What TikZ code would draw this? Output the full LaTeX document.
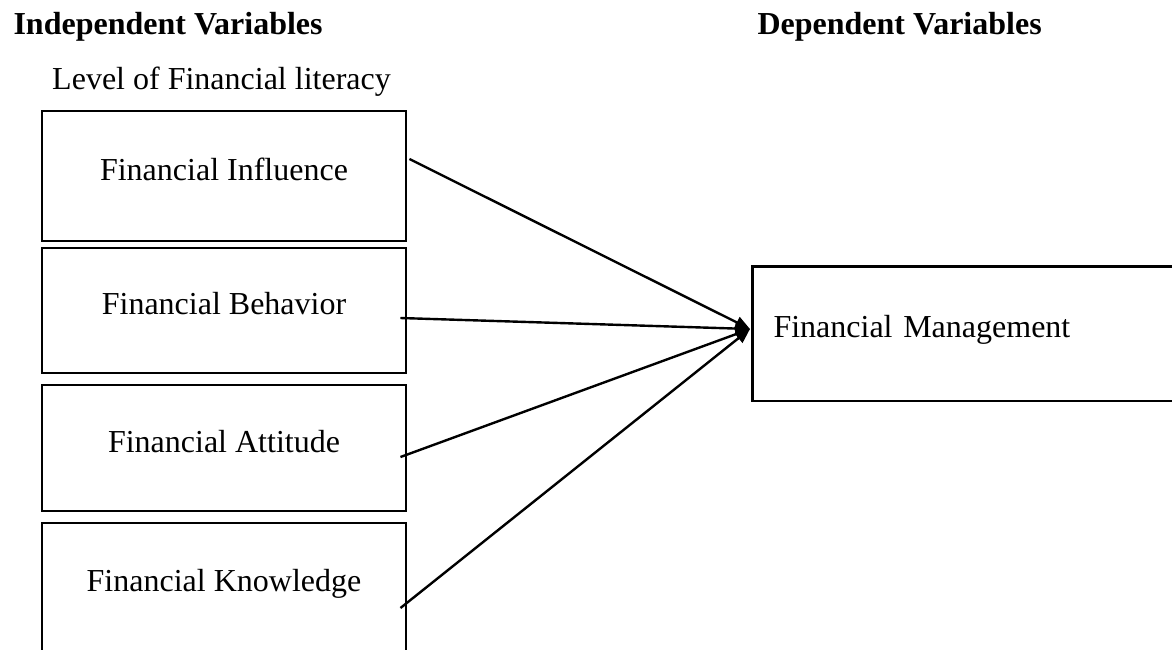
\documentclass[tikz,border=0pt]{standalone}
\usepackage{fontspec}
\setmainfont{Liberation Serif}
\usetikzlibrary{arrows.meta}
\usetikzlibrary{calc}

\begin{document}
\begin{tikzpicture}[x=0.375pt,y=0.375pt,yscale=-1,xscale=1,
  varbox/.style={draw, line width=1.1pt, minimum width=136.5pt, inner sep=0pt,
    text height=8pt, text depth=5pt, font=\fontsize{12}{14}\selectfont},
  heading/.style={anchor=west, inner sep=0pt, font=\fontsize{12}{14}\selectfont\bfseries},
  link/.style={line width=0.9pt, -{Triangle[length=5.5pt,width=4.5pt]}}]
\clip (0,0) rectangle (1172,649);
\useasboundingbox (0,0) rectangle (1172,649);

% Text Node
\node [heading] (indep) at (13,27) {Independent Variables};
% Text Node
\node [heading] (dep) at (757,27) {Dependent Variables};
% Text Node
\node [inner sep=0pt, font=\fontsize{12}{14}\selectfont] (level) at (221.5,81.5) {Level of Financial literacy};

% Boxes
\node [varbox, minimum height=48.75pt] (infl) at (224,176) {Financial Influence};
\node [varbox, minimum height=46.875pt] (behav) at (224,310.5) {Financial Behavior};
\node [varbox, minimum height=47.25pt] (attit) at (224,448) {Financial Attitude};
\node [varbox, minimum height=60pt, text depth=16.5pt] (knowl) at (224,603) {Financial Knowledge};
\node [varbox, anchor=west, minimum width=164.6pt, minimum height=50.6pt, inner xsep=7.9pt,
  text width=148.8pt, align=left] (fm) at (751,333.5) {Financial Management};

%Straight Lines
\coordinate (hub) at ($(fm.west)+(-1,-4.5)$);
\draw [link] ($(infl.east)+(2,-17)$) -- (hub);
\draw [link] ($(behav.east)+(-7,7.5)$) -- (hub);
\draw [link] ($(attit.east)+(-7,9)$) -- (hub);
\draw [link] ($(knowl.east)+(-7,5)$) -- (hub);

\end{tikzpicture}
\end{document}
